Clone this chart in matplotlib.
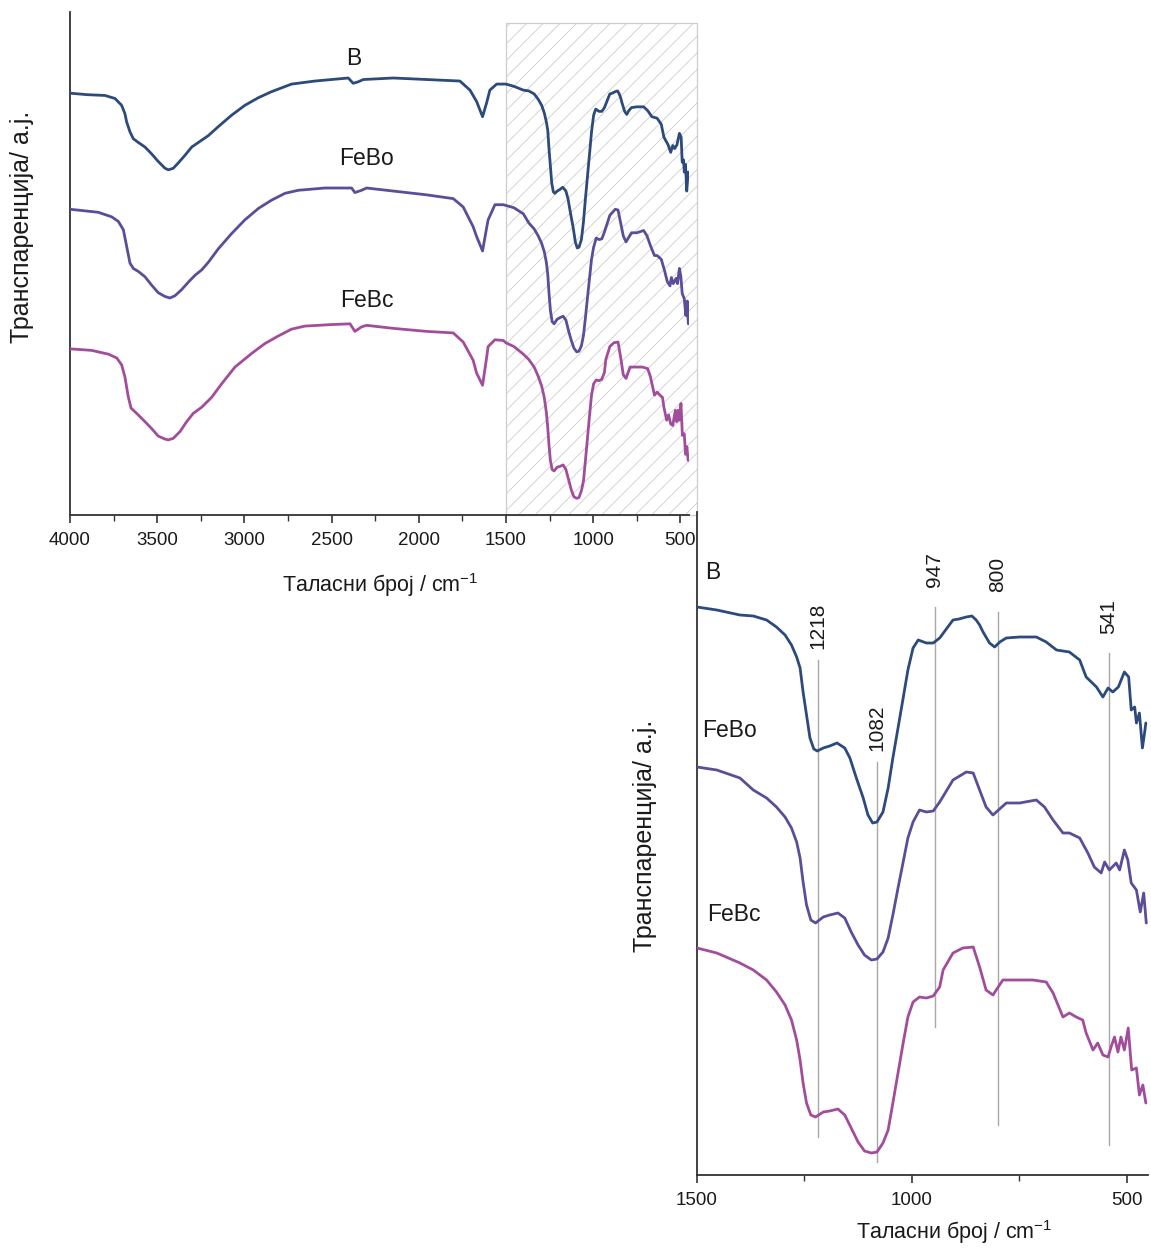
import matplotlib
matplotlib.use("Agg")
import matplotlib.pyplot as plt
from matplotlib.patches import Rectangle
from matplotlib.ticker import MultipleLocator
import numpy as np

plt.rcParams["font.family"] = ["Liberation Sans", "DejaVu Sans"]
plt.rcParams["mathtext.fontset"] = "custom"
plt.rcParams["mathtext.rm"] = "Liberation Sans"
plt.rcParams["hatch.linewidth"] = 0.6

# FTIR spectra, transmittance in arbitrary units (each relative to its value at 1500 cm-1)
B_WN = [4000, 3900, 3800, 3742, 3704, 3685, 3675, 3656, 3637, 3608, 3570, 3532, 3494, 3455,
        3436, 3408, 3379, 3341, 3302, 3264, 3207, 3149, 3073, 2997, 2920, 2844, 2729, 2595,
        2404, 2376, 2347, 2318, 2146, 1764, 1706, 1668, 1634, 1611, 1592, 1553, 1515, 1500,
        1454, 1400, 1369, 1338, 1315, 1295, 1280, 1268, 1260, 1253, 1245, 1237, 1228, 1220,
        1206, 1191, 1174, 1156, 1144, 1129, 1113, 1102, 1091, 1081, 1067, 1055, 1044, 1032,
        1020, 1009, 997, 985, 966, 950, 935, 904, 890, 873, 860, 850, 842, 834, 819, 807,
        795, 780, 749, 710, 687, 663, 633, 609, 594, 570, 555, 543, 532, 519, 505, 495,
        489, 481, 477, 470, 463, 458, 455]
B_T = [-12, -14, -15, -19, -28, -39, -50, -63, -72, -77, -83, -92, -102, -111,
       -113, -111, -104, -94, -83, -77, -68, -56, -41, -28, -18, -10, 0, 4,
       8, 1, 3, 6, 8, 4, -8, -23, -43, -25, -8, 0, 0, 0,
       -3, -8, -9, -13, -20, -28, -38, -50, -61, -85, -108, -131, -142, -144,
       -141, -139, -136, -141, -151, -171, -191, -208, -216, -215, -205, -181, -151, -121,
       -91, -63, -41, -33, -36, -36, -31, -13, -12, -10, -9, -13, -18, -25, -36, -40,
       -35, -31, -30, -30, -35, -43, -45, -53, -70, -80, -90, -81, -85, -80, -65, -70,
       -103, -100, -116, -106, -141, -126, -116]

FEBO_WN = [4000, 3838, 3761, 3723, 3694, 3675, 3656, 3637, 3608, 3570, 3532, 3494, 3455, 3427,
           3398, 3360, 3321, 3283, 3245, 3207, 3149, 3073, 2997, 2920, 2844, 2767, 2691, 2538,
           2385, 2366, 2328, 2299, 2146, 1955, 1802, 1745, 1688, 1668, 1634, 1611, 1602, 1563,
           1515, 1500, 1454, 1400, 1369, 1338, 1315, 1295, 1280, 1268, 1260, 1253, 1245, 1235,
           1224, 1206, 1191, 1172, 1156, 1141, 1125, 1110, 1094, 1081, 1067, 1055, 1044, 1032,
           1020, 1009, 997, 982, 966, 950, 935, 904, 873, 857, 842, 827, 811, 780, 749, 710,
           691, 671, 648, 633, 609, 590, 575, 559, 551, 540, 524, 516, 505, 497, 489, 477,
           468, 460, 454]
FEBO_T = [-5, -9, -15, -21, -32, -54, -76, -83, -87, -94, -105, -115, -120, -122,
          -119, -111, -101, -92, -85, -75, -57, -37, -19, -4, 7, 16, 20, 23,
          23, 17, 20, 23, 19, 14, 9, -2, -28, -41, -60, -30, -19, 1,
          1, 0, -3, -11, -23, -31, -40, -50, -61, -75, -91, -115, -138, -153,
          -156, -150, -148, -146, -151, -165, -178, -188, -193, -192, -185, -171, -148, -121,
          -95, -71, -55, -43, -45, -44, -35, -13, -5, -6, -23, -40, -48, -36, -36, -33,
          -40, -53, -66, -66, -71, -86, -100, -106, -95, -103, -96, -103, -83, -93, -116, -123,
          -145, -126, -156]

FEBC_WN = [4000, 3876, 3780, 3732, 3704, 3685, 3666, 3650, 3618, 3570, 3532, 3494, 3455, 3436,
           3408, 3369, 3331, 3293, 3245, 3188, 3130, 3054, 2958, 2882, 2805, 2729, 2653, 2500,
           2394, 2366, 2328, 2299, 2146, 1955, 1802, 1745, 1688, 1668, 1634, 1611, 1602, 1563,
           1515, 1500, 1454, 1400, 1369, 1338, 1315, 1295, 1280, 1268, 1260, 1253, 1245, 1235,
           1224, 1206, 1191, 1172, 1156, 1141, 1125, 1110, 1094, 1081, 1067, 1055, 1044, 1032,
           1020, 1009, 997, 982, 966, 950, 935, 927, 904, 881, 857, 842, 827, 811, 788, 757,
           718, 687, 671, 648, 633, 617, 602, 594, 578, 567, 555, 543, 536, 528, 520, 513,
           505, 496, 488, 477, 470, 462, 455]
FEBC_T = [-8, -10, -15, -20, -29, -45, -71, -86, -93, -104, -113, -123, -127, -128,
          -126, -117, -104, -93, -85, -72, -54, -32, -14, -1, 9, 18, 22, 24,
          25, 15, 21, 23, 19, 15, 13, 1, -23, -40, -56, -20, -5, 4,
          3, 0, -5, -15, -22, -32, -44, -57, -72, -92, -112, -135, -155, -167,
          -169, -164, -163, -161, -167, -180, -194, -203, -205, -204, -195, -182, -155, -125,
          -95, -69, -54, -49, -50, -48, -39, -22, -5, 0, 1, -19, -42, -47, -32, -32,
          -32, -34, -45, -69, -65, -69, -72, -85, -102, -95, -107, -109, -99, -89, -104, -89,
          -102, -80, -122, -120, -147, -137, -155]

SAMPLES = ["B", "FeBo", "FeBc"]
SPECTRA = [(B_WN, B_T), (FEBO_WN, FEBO_T), (FEBC_WN, FEBC_T)]
OFFSETS = [568, 408, 227]
COLORS = ["#2c4a7c", "#5d4d98", "#a24d9c"]

# marked bands in the zoomed panel
BANDS = [1218, 1082, 947, 800, 541]
BAND_TOP = [515, 413, 568, 563, 522]
BAND_BOTTOM = [38, 13, 148, 50, 30]
BAND_LABEL_Y = [526, 424, 588, 583, 541]

XLAB = "Таласни број / cm$^{\\mathregular{-1}}$"
YLAB = "Транспаренција/ a.j."
TXT = "#1a1a1a"


def style(ax, xlim, major, minor):
    ax.set_xlim(*xlim)
    ax.set_ylim(0, 663)
    for s in ("top", "right"):
        ax.spines[s].set_visible(False)
    for s in ("left", "bottom"):
        ax.spines[s].set_color("#333333")
        ax.spines[s].set_linewidth(1.3)
    ax.set_yticks([])
    ax.xaxis.set_major_locator(MultipleLocator(major))
    ax.xaxis.set_minor_locator(MultipleLocator(minor))
    ax.tick_params(axis="x", which="major", direction="out", length=6, width=1.2,
                   color="#333333", labelsize=13.5, pad=6, labelcolor=TXT)
    ax.tick_params(axis="x", which="minor", direction="out", length=4, width=1.0, color="#333333")
    ax.patch.set_alpha(0)


def draw_spectra(ax):
    for (wn, t), off, c in zip(SPECTRA, OFFSETS, COLORS):
        ax.plot(wn, np.array(t) + off, color=c, lw=2.0, zorder=3,
                solid_joinstyle="round", solid_capstyle="round")


fig = plt.figure(figsize=(11.51, 12.51), dpi=100)

# full spectrum
ax1 = fig.add_axes([0.06082, 0.58833, 0.53779, 0.40208])
style(ax1, (4000, 450), 500, 250)
ax1.add_patch(Rectangle((402, 0), 1098, 648.5, facecolor="none", edgecolor="#cdcdcd",
                        hatch="//", linewidth=0.9, clip_on=False, zorder=0))
draw_spectra(ax1)
for name, x, y in zip(SAMPLES, [2372, 2297, 2297], [602, 470, 283]):
    ax1.text(x, y, name, fontsize=16.5, ha="center", va="center", color=TXT)
fig.text(380 / 1151, 1 - 585 / 1251, XLAB, fontsize=15.5, ha="center", va="center", color=TXT)
fig.text(22 / 1151, 1 - 227 / 1251, YLAB, fontsize=18, ha="center", va="center",
         rotation=90, color=TXT)

# fingerprint region
ax2 = fig.add_axes([0.60556, 0.06075, 0.39183, 0.52998])
style(ax2, (1500, 450), 500, 250)
for w, top, bot, ly in zip(BANDS, BAND_TOP, BAND_BOTTOM, BAND_LABEL_Y):
    ax2.plot([w, w], [bot, top], color="#a8a8a8", lw=1.0, zorder=1)
    ax2.text(w, ly, str(w), rotation=90, fontsize=15, ha="center", va="bottom", color=TXT)
draw_spectra(ax2)
for name, x, y in zip(SAMPLES, [1481, 1488, 1477], [602, 444, 260]):
    ax2.text(x, y, name, fontsize=16.5, ha="left", va="center", color=TXT)
fig.text(954 / 1151, 1 - 1232 / 1251, XLAB, fontsize=15.5, ha="center", va="center", color=TXT)
fig.text(645 / 1151, 1 - 836 / 1251, YLAB, fontsize=18, ha="center", va="center",
         rotation=90, color=TXT)

fig.savefig("out.png", dpi=100, facecolor="white")
